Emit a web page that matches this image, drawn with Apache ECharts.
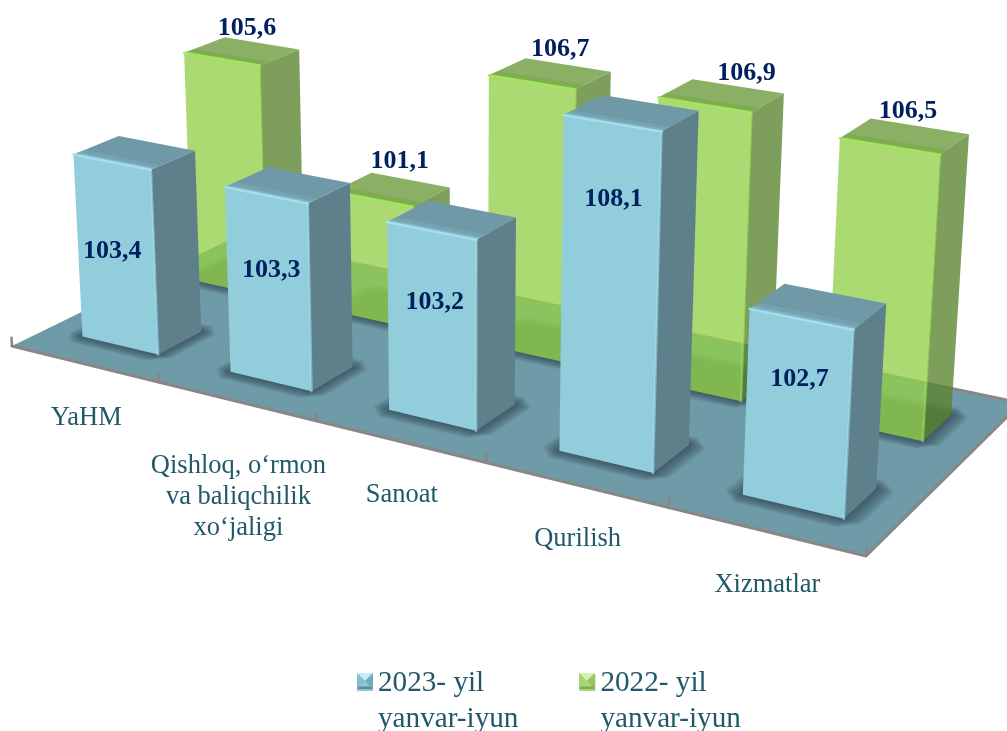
<!DOCTYPE html>
<html>
<head>
<meta charset="utf-8">
<script src="https://cdn.jsdelivr.net/npm/echarts@6/dist/echarts.min.js"></script>
<style>
  html, body { margin: 0; padding: 0; background: #fff; overflow: hidden; }
  #chart { width: 1007px; height: 731px; }
</style>
</head>
<body>
<div id="chart"></div>
<script>
const categories = ['YaHM', 'Qishloq, o‘rmon\nva baliqchilik\nxo‘jaligi', 'Sanoat', 'Qurilish', 'Xizmatlar']
const values2023 = [103.4, 103.3, 103.2, 108.1, 102.7]
const values2022 = [105.6, 101.1, 106.7, 106.9, 106.5]
const seriesNames = ['2023- yil\nyanvar-iyun', '2022- yil\nyanvar-iyun']

const axisMin = 96.2
const axisMax = 110

// camera: floor corners on screen (front-left, front-right, back-right, back-left)
const floorCorners = [[12, 346], [866, 556], [1021, 403], [233, 238]]
const vanish = [465, 8080] // vertical lines converge down here
const riseAtMax = 0.0444 // homogeneous lift for a full axis height
const barShare = 0.52 // of the category band
const rowFront = { v: [0.15, 0.34], du: 0 }
const rowBack = { v: [0.65, 0.84], du: -0.003 }
const labelFont = 'bold 26px "Liberation Serif", serif'
const axisFont = '26.5px "Liberation Serif", serif'
// the label spots in the picture are not regular, so they get a nudge per bar
const blueLabelNudge = [[0, 89], [5, 75], [3, 71], [1, 76], [-2, 60]]
const greenLabelNudge = [[5, -23], [8, -28], [10, -24], [25, -22], [3, -25]]

const blue = { front: '#92CDDC', side: '#5E808B', top: '#7099A8', bevel: ['#7AA6B5', '#84B6C6'], light: '#A4E2F3' }
const green = { front: '#92D04A', side: '#5A832F', top: '#6B9A3B', bevel: ['#73A541', '#7CB246'], light: '#A4E85A', opacity: 0.785 }

const homography = (() => {
  const [[x0, y0], [x1, y1], [x2, y2], [x3, y3]] = floorCorners
  const dx1 = x1 - x2, dx2 = x3 - x2, sx = x0 - x1 + x2 - x3
  const dy1 = y1 - y2, dy2 = y3 - y2, sy = y0 - y1 + y2 - y3
  const det = dx1 * dy2 - dx2 * dy1
  const g = (sx * dy2 - dx2 * sy) / det
  const h = (dx1 * sy - sx * dy1) / det
  return { a: x1 - x0 + g * x1, b: x3 - x0 + h * x3, c: x0, d: y1 - y0 + g * y1, e: y3 - y0 + h * y3, f: y0, g, h }
})()

// u along the category axis, v into the depth, lift from the value axis (0..1)
const project = (u, v, lift) => {
  const m = homography
  const t = -lift * riseAtMax
  const w = m.g * u + m.h * v + 1 + t
  return [(m.a * u + m.b * v + m.c + t * vanish[0]) / w, (m.d * u + m.e * v + m.f + t * vanish[1]) / w]
}

const readBar = (params, api) => {
  const grid = params.coordSys
  const idx = api.value(0)
  const base = api.coord([idx, axisMin])
  const top = api.coord([idx, api.value(1)])
  const band = api.size([1, 0])[0]
  return {
    idx,
    uc: (base[0] - grid.x) / grid.width,
    half: (band * barShare) / 2 / grid.width,
    lift: (base[1] - top[1]) / grid.height,
  }
}

const mix = (p, q, k) => [p[0] + (q[0] - p[0]) * k, p[1] + (q[1] - p[1]) * k]
const poly = (points, fill, extra) => ({ type: 'polygon', shape: { points }, style: { fill, ...extra }, silent: true })
const line = (points, stroke, lineWidth, opacity) => ({
  type: 'polyline', shape: { points }, style: { stroke, lineWidth, opacity, fill: null, lineJoin: 'round', lineCap: 'round' }, silent: true,
})
const text = (x, y, str, fill, font, lineHeight) => ({
  type: 'text', silent: true,
  style: { x, y, text: str, fill, font, align: 'center', verticalAlign: 'middle', lineHeight },
})

const barRenderer = (row, c, isFront) => (params, api) => {
  const { idx, uc, half, lift } = readBar(params, api)
  const u0 = uc + row.du - half, u1 = uc + row.du + half, [v0, v1] = row.v
  const A = project(u0, v0, 0), B = project(u1, v0, 0), C = project(u1, v1, 0)
  const At = project(u0, v0, lift), Bt = project(u1, v0, lift), Ct = project(u1, v1, lift), Dt = project(u0, v1, lift)
  const label = String(api.value(1)).replace('.', ',')
  const op = c.opacity || 1
  const cx = (At[0] + Bt[0] + Ct[0] + Dt[0]) / 4
  const cy = (At[1] + Bt[1] + Ct[1] + Dt[1]) / 4
  const labelEl = isFront
    ? text((At[0] + Bt[0]) / 2 + blueLabelNudge[idx][0], (At[1] + Bt[1]) / 2 + blueLabelNudge[idx][1], label, '#002060', labelFont)
    : text(cx + greenLabelNudge[idx][0], cy + greenLabelNudge[idx][1], label, '#002060', labelFont)
  return {
    type: 'group',
    children: [
      poly([A, B, Bt, At], c.front, { opacity: op }),
      poly([B, C, Ct, Bt], c.side, { opacity: op }),
      poly([At, Bt, Ct, Dt], c.top, { opacity: op }),
      // soft bevel where the top meets the front
      poly([At, Bt, mix(Bt, Ct, 0.24), mix(At, Dt, 0.24)], c.bevel[0], { opacity: op * 0.6 }),
      poly([At, Bt, mix(Bt, Ct, 0.11), mix(At, Dt, 0.11)], c.bevel[1], { opacity: op * 0.8 }),
      line([At, Bt], c.light, 2.5, 0.9),
      line([Bt, B], c.light, 2.5, 0.55),
      labelEl,
    ],
  }
}

// soft contact shadow: stacked see-through footprints with cut corners, widest first
const shadeLayers = 10
const shadowRenderer = (row) => (params, api) => {
  const { uc, half } = readBar(params, api)
  const children = []
  for (let i = 0; i < shadeLayers; i++) {
    const k = 1 - i / shadeLayers
    const eu = 0.019 * k, ev = 0.05 * k
    const u0 = uc + row.du - half - eu, u1 = uc + row.du + half + eu
    const v0 = row.v[0] - ev, v1 = row.v[1] + ev
    const outline = [
      [u0, v0 + ev], [u0 + eu, v0], [u1 - eu, v0], [u1, v0 + ev],
      [u1, v1 - ev], [u1 - eu, v1], [u0 + eu, v1], [u0, v1 - ev],
    ]
    children.push(poly(outline.map(([u, v]) => project(u, v, 0)), 'rgb(25,45,55)', { opacity: 0.07 }))
  }
  return { type: 'group', children }
}

const renderFloor = () => {
  const corners = [project(0, 0, 0), project(1, 0, 0), project(1, 1, 0), project(0, 1, 0)]
  const ticks = [0, 1, 2, 3, 4, 5].map((k) => line([project(k / 5, 0, 0), project(k / 5, 0, 0.024)], '#8a8686', 2.5))
  return {
    type: 'group',
    children: [poly(corners, '#6F9BA8'), line(corners, '#8a8686', 3), ...ticks],
  }
}

const renderCategory = (params, api) => {
  const { idx, uc } = readBar(params, api)
  const p = project(uc, 0, 0)
  const lines = categories[idx].split('\n').length
  return text(p[0] + 2, p[1] + 54 + (lines - 1) * 21, categories[idx], '#215968', axisFont, 31)
}

const pairs = (vals) => vals.map((v, i) => [i, v])
const customBase = { type: 'custom', clip: false, encode: { x: 0, y: 1 }, animation: false, silent: true }
// tall icon box, square sits in its upper part to line up with the first text row
const legendIcon = 'path://M0 0H16V16H0Z M0 52H0.01V52.01H0Z'

// little pyramid facets laid over the legend squares
const facets = (x, y, s, colors) => {
  const tl = [x, y], tr = [x + s, y], br = [x + s, y + s], bl = [x, y + s], c = [x + s / 2, y + s / 2]
  return [[tl, tr, c], [tr, br, c], [tl, bl, c], [bl, br, [x + s - 2, y + s - 2.5], [x + 2, y + s - 2.5]]].map((points, i) => ({
    type: 'polygon', shape: { points }, style: { fill: colors[i] }, silent: true, z: 20,
  }))
}

const chart = echarts.init(document.getElementById('chart'))
chart.setOption({
  animation: false,
  backgroundColor: '#fff',
  grid: { left: 0, right: 0, top: 0, bottom: 0 },
  xAxis: { type: 'category', data: categories, show: false },
  yAxis: { type: 'value', min: axisMin, max: axisMax, show: false },
  legend: {
    left: 357,
    top: 665,
    itemWidth: 16,
    itemHeight: 52,
    itemGap: 61,
    padding: 0,
    selectedMode: false,
    textStyle: { color: '#215968', fontFamily: '"Liberation Serif", serif', fontSize: 29.2, lineHeight: 36 },
    data: [
      { name: seriesNames[0], icon: legendIcon, itemStyle: { color: '#8FC6D6' } },
      { name: seriesNames[1], icon: legendIcon, itemStyle: { color: '#A9D971' } },
    ],
  },
  graphic: [
    ...facets(357, 673, 16, ['#C5EEF7', '#76AABA', '#86BCCB', '#5E8C9A']),
    ...facets(579, 673, 16, ['#D5F0A8', '#98C266', '#A8D274', '#80A85A']),
  ],
  series: [
    { ...customBase, name: 'floor', data: [[0, axisMin]], renderItem: renderFloor, z: 1 },
    { ...customBase, name: 'floorShadeBack', data: pairs(values2022), renderItem: shadowRenderer(rowBack), z: 2 },
    { ...customBase, name: 'floorShadeFront', data: pairs(values2023), renderItem: shadowRenderer(rowFront), z: 2 },
    { ...customBase, name: 'categoryLabels', data: pairs(values2023), renderItem: renderCategory, z: 2 },
    { ...customBase, name: seriesNames[1], data: pairs(values2022), renderItem: barRenderer(rowBack, green, false), z: 3, itemStyle: { color: '#A9D971' } },
    { ...customBase, name: seriesNames[0], data: pairs(values2023), renderItem: barRenderer(rowFront, blue, true), z: 4, itemStyle: { color: '#92CDDC' } },
  ],
})
</script>
</body>
</html>
